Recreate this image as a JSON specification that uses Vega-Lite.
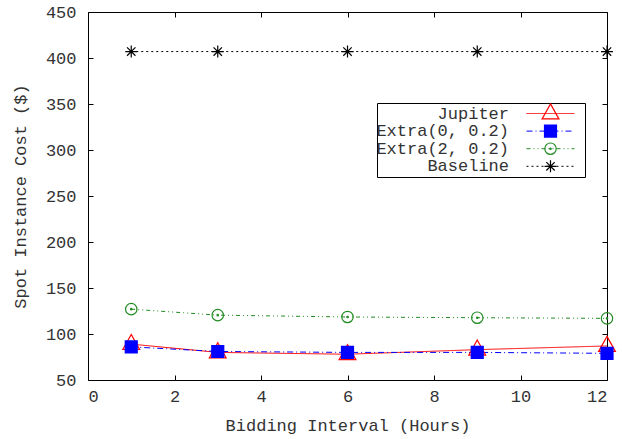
{
  "$schema": "https://vega.github.io/schema/vega-lite/v6.json",
  "width": 519,
  "height": 368,
  "autosize": {"type": "none"},
  "padding": {"left": 88, "top": 12, "right": 15, "bottom": 59},
  "background": "white",
  "config": {
    "view": {"stroke": "#000000", "strokeWidth": 1},
    "font": "Liberation Mono",
    "axis": {
      "labelFont": "Liberation Mono", "titleFont": "Liberation Mono",
      "labelFontSize": 17, "titleFontSize": 17,
      "labelColor": "#333333", "titleColor": "#333333",
      "titleFontWeight": "normal", "domain": false, "grid": false,
      "tickColor": "#000000", "tickSize": -5, "tickWidth": 1
    },
    "legend": {"labelFont": "Liberation Mono", "labelFontSize": 17, "labelColor": "#333333"}
  },
  "data": {
    "values": [
      {"hours": 1, "cost": 89, "series": "Jupiter", "marker": "Jupiter"},
      {"hours": 3, "cost": 80, "series": "Jupiter", "marker": "Jupiter"},
      {"hours": 6, "cost": 78, "series": "Jupiter", "marker": "Jupiter"},
      {"hours": 9, "cost": 83, "series": "Jupiter", "marker": "Jupiter"},
      {"hours": 12, "cost": 87, "series": "Jupiter", "marker": "Jupiter"},
      {"hours": 1, "cost": 86, "series": "Extra(0, 0.2)", "marker": "Extra(0, 0.2)"},
      {"hours": 3, "cost": 81, "series": "Extra(0, 0.2)", "marker": "Extra(0, 0.2)"},
      {"hours": 6, "cost": 80, "series": "Extra(0, 0.2)", "marker": "Extra(0, 0.2)"},
      {"hours": 9, "cost": 80, "series": "Extra(0, 0.2)", "marker": "Extra(0, 0.2)"},
      {"hours": 12, "cost": 79, "series": "Extra(0, 0.2)", "marker": "Extra(0, 0.2)"},
      {"hours": 1, "cost": 127, "series": "Extra(2, 0.2)", "marker": "Extra(2, 0.2)"},
      {"hours": 3, "cost": 120.5, "series": "Extra(2, 0.2)", "marker": "Extra(2, 0.2)"},
      {"hours": 6, "cost": 118.5, "series": "Extra(2, 0.2)", "marker": "Extra(2, 0.2)"},
      {"hours": 9, "cost": 117.7, "series": "Extra(2, 0.2)", "marker": "Extra(2, 0.2)"},
      {"hours": 12, "cost": 117, "series": "Extra(2, 0.2)", "marker": "Extra(2, 0.2)"},
      {"hours": 1, "cost": 407, "series": "Baseline", "marker": "Baseline"},
      {"hours": 3, "cost": 407, "series": "Baseline", "marker": "Baseline"},
      {"hours": 6, "cost": 407, "series": "Baseline", "marker": "Baseline"},
      {"hours": 9, "cost": 407, "series": "Baseline", "marker": "Baseline"},
      {"hours": 12, "cost": 407, "series": "Baseline", "marker": "Baseline"}
    ]
  },
  "layer": [
    {
      "mark": {"type": "line", "strokeWidth": 1},
      "encoding": {
        "x": {"field": "hours", "type": "quantitative", "scale": {"domain": [0, 12], "nice": false},
              "axis": {"orient": "bottom", "values": [0, 2, 4, 6, 8, 10, 12], "title": "Bidding Interval (Hours)", "labelPadding": 13, "titlePadding": 13}},
        "y": {"field": "cost", "type": "quantitative", "scale": {"domain": [50, 450], "nice": false, "zero": false},
              "axis": {"orient": "left", "values": [50, 100, 150, 200, 250, 300, 350, 400, 450], "title": "Spot Instance Cost ($)", "labelPadding": 17, "titlePadding": 16}},
        "color": {"field": "series", "type": "nominal", "sort": ["Jupiter", "Extra(0, 0.2)", "Extra(2, 0.2)", "Baseline"],
                  "scale": {"range": ["#ff0000", "#0000ff", "#228b22", "#000000"]},
                  "legend": {"orient": "none", "legendX": 289, "legendY": 91, "title": null, "padding": 2, "rowPadding": -0.4, "strokeColor": "#000000", "labelAlign": "right", "labelOffset": -50, "symbolOffset": 163, "symbolType": "M-4,0H4M5,0H5", "symbolSize": 144, "symbolStrokeWidth": 1,
                             "symbolStrokeColor": {"expr": "scale('color', datum.value)"}, "symbolDash": {"expr": "scale('strokeDash', datum.value)"}, "symbolFillColor": "transparent"}},
        "strokeDash": {"field": "series", "type": "nominal", "sort": ["Jupiter", "Extra(0, 0.2)", "Extra(2, 0.2)", "Baseline"],
                  "scale": {"range": [[1, 0], [6, 3, 1, 3], [4, 3, 1, 3, 1, 3], [2, 3]]},
                  "legend": null}
      }
    },
    {
      "mark": {"type": "point", "strokeWidth": 1.2, "opacity": 1, "size": 144, "fill": "transparent", "filled": false},
      "encoding": {
        "x": {"field": "hours", "type": "quantitative", "axis": {"orient": "top", "values": [0, 2, 4, 6, 8, 10, 12], "labels": false, "title": null}},
        "y": {"field": "cost", "type": "quantitative", "axis": {"orient": "right", "values": [50, 100, 150, 200, 250, 300, 350, 400, 450], "labels": false, "title": null}},
        "shape": {"field": "marker", "type": "nominal", "sort": ["Jupiter", "Extra(0, 0.2)", "Extra(2, 0.2)", "Baseline"],
                  "scale": {"range": ["M0,-1.6L1.4,0.9L-1.4,0.9Z", "M-1,-1H1V-0.85H-1V-0.7H1V-0.55H-1V-0.4H1V-0.25H-1V-0.1H1V0.05H-1V0.2H1V0.35H-1V0.5H1V0.65H-1V0.8H1V1H-1Z", "M0.95,0A0.95,0.95 0 1,1 -0.95,0A0.95,0.95 0 1,1 0.95,0ZM0.12,0A0.12,0.12 0 1,1 -0.12,0A0.12,0.12 0 1,1 0.12,0Z", "M-1,0H1M0,-1V1M-0.7,-0.7L0.7,0.7M-0.7,0.7L0.7,-0.7"]},
                  "legend": {"orient": "none", "legendX": 289, "legendY": 91, "title": null, "padding": 2, "rowPadding": -0.4, "labelOpacity": 0, "labelAlign": "right", "labelOffset": -50, "symbolOffset": 163, "symbolSize": 144, "symbolStrokeWidth": 1.2, "symbolFillColor": "transparent",
                             "symbolStrokeColor": {"expr": "scale('stroke', datum.value)"}}},
        "stroke": {"field": "marker", "type": "nominal", "sort": ["Jupiter", "Extra(0, 0.2)", "Extra(2, 0.2)", "Baseline"],
                  "scale": {"range": ["#ff0000", "#0000ff", "#228b22", "#000000"]},
                  "legend": null}
      }
    }
  ],
  "resolve": {"axis": {"x": "independent", "y": "independent"}}
}
